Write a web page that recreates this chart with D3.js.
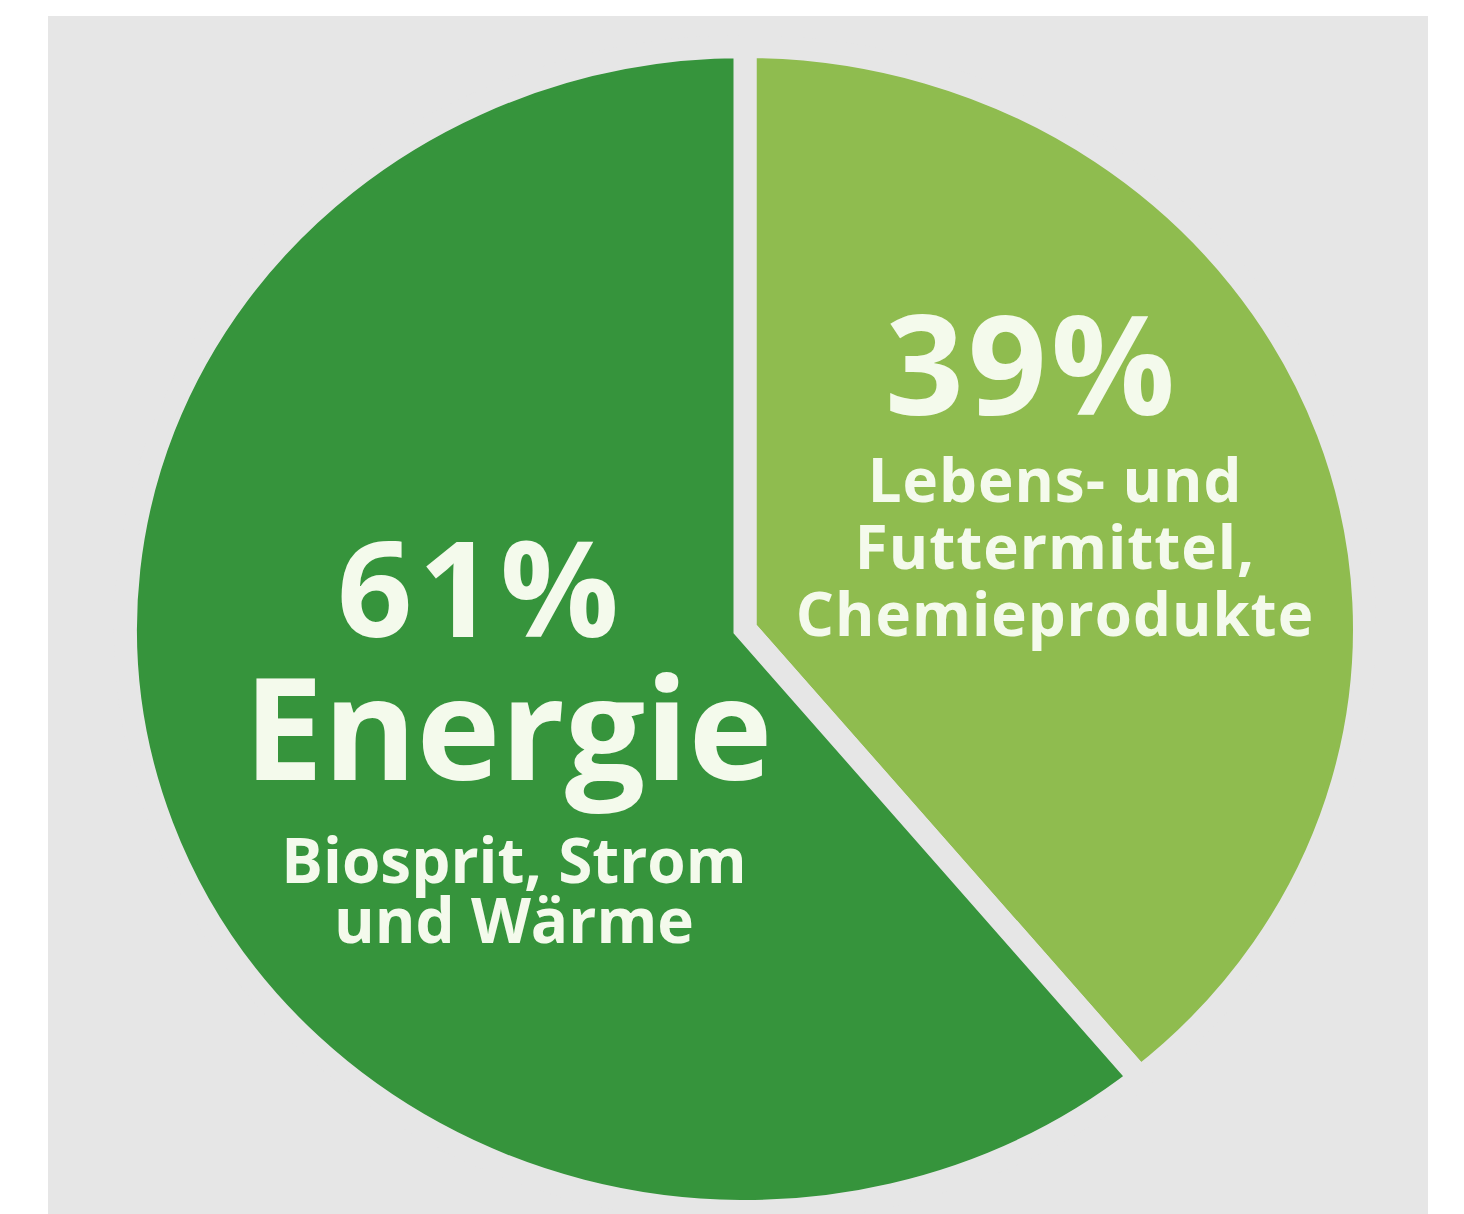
<!DOCTYPE html>
<html lang="de">
<head>
    <meta charset="UTF-8">
    <title>Verwendung Biomasse</title>
    <script src="https://d3js.org/d3.v7.min.js"></script>
    <style>
        body { margin: 0; background: #fff; }
        text { font-family: "Open Sans", "Noto Sans", sans-serif; font-weight: 700; fill: #f4faec; }
    </style>
</head>
<body>
<svg width="1464" height="1214"></svg>
<script>
// data, clockwise from 12 o'clock
var shares = [39, 61];
var pctLabels = ["39%", "61%"];
var headLabels = [null, "Energie"];
var subLabels = [
    ["Lebens- und", "Futtermittel,", "Chemieprodukte"],
    ["Biosprit, Strom", "und Wärme"]
];
var colors = ["#8fbc4f", "#36943c"];

var bg = "#e6e6e6";
var svg = d3.select("svg");

// grey panel
svg.append("rect")
    .attr("x", 48).attr("y", 16)
    .attr("width", 1380).attr("height", 1200)
    .attr("fill", bg);

var cx = 745, cy = 629,
    gap = 23,
    ry = 571 + gap / 2, rx = 608 + gap / 2;

var pie = d3.pie().sort(null).value(function(d) { return d; });
var arc = d3.arc().innerRadius(0).outerRadius(ry);

// picture is slightly wider than tall
var g = svg.append("g")
    .attr("transform", "translate(" + cx + "," + cy + ") scale(" + (rx / ry) + ",1)");

g.selectAll("path")
    .data(pie(shares))
    .enter().append("path")
    .attr("d", arc)
    .attr("fill", function(d, i) { return colors[i]; })
    .attr("stroke", bg)
    .attr("stroke-width", gap)
    .attr("stroke-linejoin", "miter")
    .attr("stroke-miterlimit", 10)
    .attr("vector-effect", "non-scaling-stroke");

// labels (positions relative to pie centre)
var lab = svg.append("g");

// right slice
lab.append("text").attr("x", cx + 287).attr("y", cy - 214)
    .attr("text-anchor", "middle").style("font-size", "138px")
    .style("letter-spacing", "4px")
    .text(pctLabels[0]);
subLabels[0].forEach(function(s, i) {
    lab.append("text").attr("x", cx + 310).attr("y", cy - 127 + i * 67)
        .attr("text-anchor", "middle").style("font-size", "60px")
        .style("letter-spacing", "1px")
        .text(s);
});

// left slice
lab.append("text").attr("x", cx - 264).attr("y", cy + 8)
    .attr("text-anchor", "middle").style("font-size", "132px")
    .style("letter-spacing", "6px")
    .text(pctLabels[1]);
lab.append("text").attr("x", cx - 237).attr("y", cy + 151)
    .attr("text-anchor", "middle").style("font-size", "142px")
    .text(headLabels[1]);
subLabels[1].forEach(function(s, i) {
    lab.append("text").attr("x", cx - 231).attr("y", cy + 254 + i * 60)
        .attr("text-anchor", "middle").style("font-size", "62px")
        .text(s);
});
</script>
</body>
</html>
